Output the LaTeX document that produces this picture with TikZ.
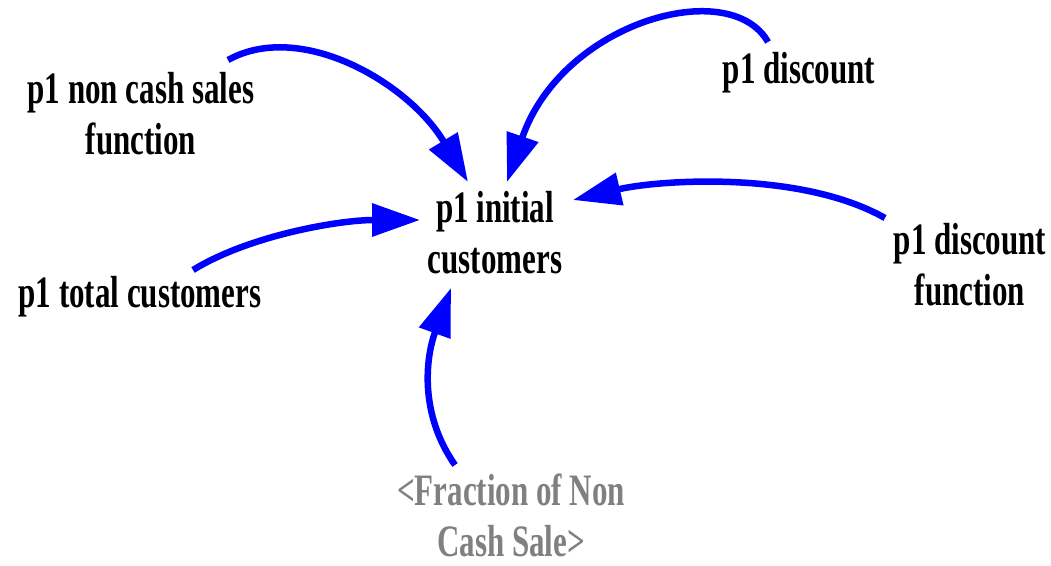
\documentclass[tikz,border=0pt]{standalone}
\usepackage{fontspec}
\setmainfont{Liberation Serif}
\usetikzlibrary{arrows.meta}
\definecolor{arrblue}{RGB}{0,0,255}
\definecolor{shadowgray}{RGB}{128,128,128}
\newcommand{\tallbox}[1]{\scalebox{1}[1.45]{\begin{tabular}{@{}c@{}}#1\end{tabular}}}
\tikzset{
  lbl/.style={inner sep=0pt, outer sep=0pt, font=\fontsize{31}{35.2}\selectfont\bfseries, text=black},
  shadowlbl/.style={lbl, text=shadowgray},
  link/.style={draw=arrblue, line width=6.5pt, -{Triangle[length=48pt,width=32pt]}}
}
\begin{document}
\begin{tikzpicture}[x=1pt,y=1pt]
\useasboundingbox (0,0) rectangle (1051,565);
\node[lbl] (init) at (495,327) {\tallbox{p1 initial\\customers}};
\node[lbl] (nc) at (141,446) {\tallbox{p1 non cash sales\\function}};
\node[lbl] (disc) at (799,492) {\tallbox{p1 discount}};
\node[lbl] (tot) at (140,268) {\tallbox{p1 total customers}};
\node[lbl] (df) at (970,295) {\tallbox{p1 discount\\function}};
\node[shadowlbl] (frac) at (511,44) {\tallbox{<Fraction of Non\\Cash Sale>}};
\draw[link] ([shift={(87,59)}]nc.center) .. controls +(72,40) and +(-60,100) .. ([shift={(-27,56)}]init.center);
\draw[link] ([shift={(-31,31)}]disc.center) .. controls +(-38,67) and +(55,160) .. ([shift={(12,56)}]init.center);
\draw[link] ([shift={(-85,52)}]df.center) .. controls +(-85,48) and +(85,20) .. ([shift={(78,38)}]init.center);
\draw[link] ([shift={(53,27)}]tot.center) .. controls +(57,35) and +(-80,0) .. ([shift={(-75,18)}]init.center);
\draw[link] ([shift={(-56,56)}]frac.center) .. controls +(-35,50) and +(-26,-72) .. ([shift={(-44,-50)}]init.center);
\end{tikzpicture}
\end{document}
